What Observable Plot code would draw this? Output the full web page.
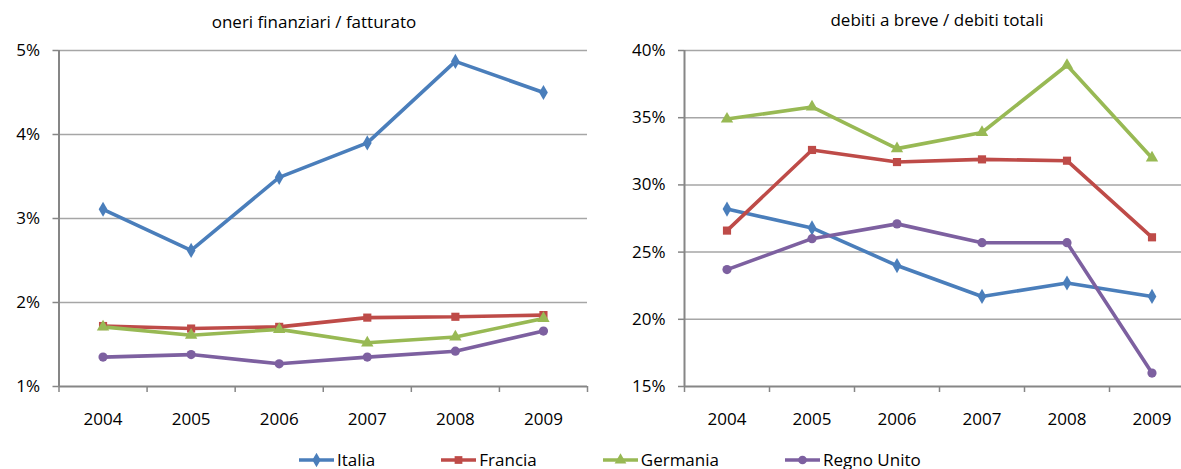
<!DOCTYPE html>
<html>
<head>
<meta charset="utf-8">
<script src="https://cdn.jsdelivr.net/npm/d3@7"></script>
<script src="https://cdn.jsdelivr.net/npm/@observablehq/plot@0.6"></script>
<style>
  html, body { margin: 0; padding: 0; background: #fff; overflow: hidden; width: 1181px; height: 469px; }
  body { position: relative; font-family: "Open Sans", sans-serif; color: #000; }
  .title { position: absolute; font-size: 17px; white-space: nowrap; transform: translateX(-50%); line-height: 1; }
  .panel { position: absolute; width: 620px; }
  .panel svg { max-width: none !important; height: auto; }
  #legend { position: absolute; left: 299px; top: 449px; display: flex; gap: 66px; font-size: 17px; line-height: 22px; }
  .item { display: flex; align-items: center; }
  .item svg { margin-right: 3px; }
</style>
</head>
<body>
<div class="title" id="t1" style="left:314px; top:13px;">oneri finanziari / fatturato</div>
<div class="title" id="t2" style="left:937px; top:11px;">debiti a breve / debiti totali</div>
<div class="panel" id="p1" style="left:0; top:30px;"></div>
<div class="panel" id="p2" style="left:600px; top:30px;"></div>
<div id="legend"></div>
<script>
// ---- data ----
const years = [2004, 2005, 2006, 2007, 2008, 2009];
const countries = ["Italia", "Francia", "Germania", "Regno Unito"];
const colors = ["#4A7EBB", "#BE4B48", "#98B954", "#7D60A0"];
const symbols = ["diamond", "square", "triangle", "circle"];

const oneriItalia = [3.11, 2.62, 3.49, 3.90, 4.87, 4.50];
const oneriFrancia = [1.72, 1.69, 1.71, 1.82, 1.83, 1.85];
const oneriGermania = [1.71, 1.61, 1.68, 1.52, 1.59, 1.81];
const oneriRegnoUnito = [1.35, 1.38, 1.27, 1.35, 1.42, 1.66];

const debitiItalia = [28.2, 26.8, 24.0, 21.7, 22.7, 21.7];
const debitiFrancia = [26.6, 32.6, 31.7, 31.9, 31.8, 26.1];
const debitiGermania = [34.9, 35.8, 32.7, 33.9, 38.9, 32.0];
const debitiRegnoUnito = [23.7, 26.0, 27.1, 25.7, 25.7, 16.0];

const oneriTicks = [1, 2, 3, 4, 5];
const debitiTicks = [15, 20, 25, 30, 35, 40];

// ---- build tables ----
function table(series) {
  const rows = [];
  series.forEach((vals, i) => vals.forEach((v, j) => rows.push({country: countries[i], year: years[j], value: v})));
  return rows;
}
const oneri = table([oneriItalia, oneriFrancia, oneriGermania, oneriRegnoUnito]);
const debiti = table([debitiItalia, debitiFrancia, debitiGermania, debitiRegnoUnito]);
const bounds = years.map(y => y - 0.5).concat([years[years.length - 1] + 0.5]);

function panel(data, ticks, opts) {
  const x0 = years[0] - 0.5, x1 = years[years.length - 1] + 0.5;
  return Plot.plot({
    width: opts.width,
    height: 410,
    marginLeft: opts.marginLeft,
    marginRight: opts.marginRight,
    marginTop: 20,
    marginBottom: 54,
    style: {fontFamily: "'Open Sans', sans-serif", fontSize: "17px", color: "#000", background: "transparent", overflow: "visible", maxWidth: "none"},
    x: {domain: [x0, x1], axis: null, label: null},
    y: {domain: [ticks[0], ticks[ticks.length - 1]], axis: null, label: null},
    color: {domain: countries, range: colors},
    symbol: {domain: countries, range: symbols},
    marks: [
      Plot.gridY(ticks.slice(1), {stroke: "#A6A6A6", strokeOpacity: 1, strokeWidth: 1.5}),
      Plot.axisY({ticks: ticks, tickSize: 6, tickPadding: 13, tickFormat: d => d + "%", stroke: "#868686", strokeWidth: 1.5, label: null}),
      Plot.axisX({ticks: bounds, tickSize: 6, tickFormat: () => "", stroke: "#868686", strokeWidth: 1.5, label: null}),
      Plot.axisX({ticks: years, tickSize: 0, tickPadding: 26, tickFormat: d => String(d), label: null}),
      Plot.ruleY([ticks[0]], {stroke: "#868686", strokeWidth: 2}),
      Plot.ruleX([x0], {stroke: "#868686", strokeWidth: 2}),
      Plot.line(data, {x: "year", y: "value", z: "country", stroke: "country", strokeWidth: 3.6, strokeLinejoin: "miter"}),
      Plot.dot(data, {x: "year", y: "value", fill: "country", symbol: "country", r: 4.6, stroke: null})
    ]
  });
}

document.getElementById("p1").appendChild(panel(oneri, oneriTicks, {width: 590, marginLeft: 58.5, marginRight: 3}));
document.getElementById("p2").appendChild(panel(debiti, debitiTicks, {width: 594, marginLeft: 84, marginRight: 0}));

// ---- legend ----
const legend = document.getElementById("legend");
countries.forEach((c, i) => {
  const item = document.createElement("div");
  item.className = "item";
  const sym = d3.symbol(Plot.scale({symbol: {domain: countries, range: symbols}}).apply(c), 60)();
  item.innerHTML = `<svg width="35" height="14"><line x1="0" x2="35" y1="7" y2="7" stroke="${colors[i]}" stroke-width="3.5"/><path transform="translate(17.5,7)" d="${sym}" fill="${colors[i]}"/></svg><span>${c}</span>`;
  legend.appendChild(item);
});
</script>
</body>
</html>
